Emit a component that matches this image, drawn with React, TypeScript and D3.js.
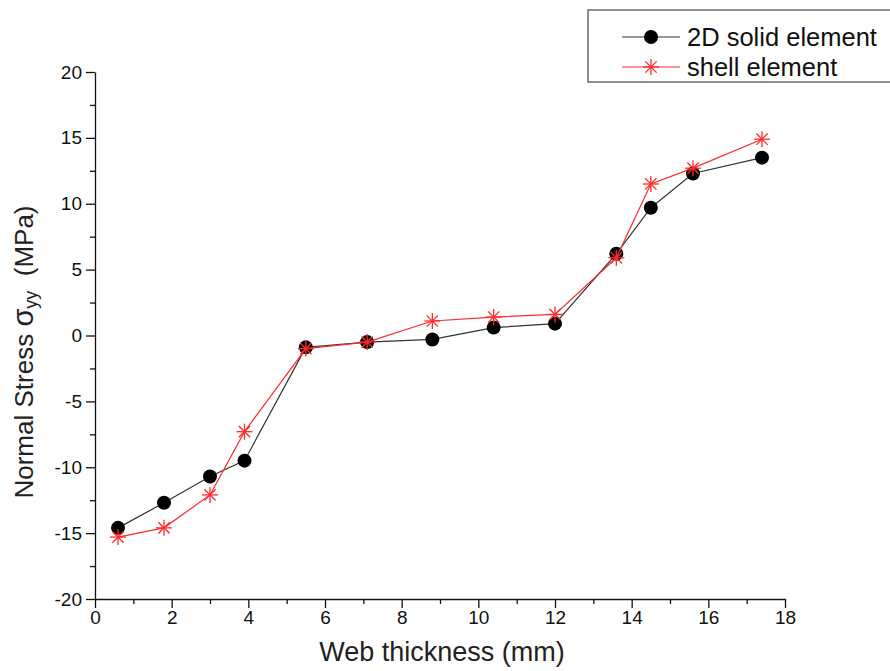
import { useRef, useEffect } from 'react'
import * as d3 from 'd3'

const thickness = [0.6, 1.8, 3.0, 3.9, 5.5, 7.1, 8.8, 10.4, 12.0, 13.6, 14.5, 15.6, 17.4]
const solidStress = [-14.6, -12.7, -10.7, -9.5, -0.9, -0.5, -0.3, 0.6, 0.9, 6.2, 9.7, 12.3, 13.5]
const shellStress = [-15.3, -14.6, -12.1, -7.3, -1.0, -0.5, 1.1, 1.4, 1.6, 5.9, 11.5, 12.7, 14.9]
const xTicks = [0, 2, 4, 6, 8, 10, 12, 14, 16, 18]
const yTicks = [-20, -15, -10, -5, 0, 5, 10, 15, 20]
const seriesNames = ['2D solid element', 'shell element']

const W = 890
const H = 671
const FONT = 'Liberation Sans, Arial, sans-serif'

const App = () => {
  const ref = useRef(null)

  useEffect(() => {
    const svg = d3.select(ref.current)
    svg.selectAll('*').remove()

    const x = d3.scaleLinear().domain([0, 18]).range([95, 785])
    const y = d3.scaleLinear().domain([-20, 20]).range([599, 72])

    // x axis
    const xAxis = svg.append('g').attr('transform', `translate(0,${y(-20)})`)
    xAxis.append('g')
      .call(d3.axisBottom(x).tickValues(d3.range(1, 18, 2)).tickSize(5).tickFormat(() => ''))
      .call(g => g.select('.domain').remove())
    xAxis.append('g')
      .call(d3.axisBottom(x).tickValues(xTicks).tickSize(9).tickSizeOuter(0).tickPadding(3).tickFormat(d => String(d)))
    xAxis.selectAll('text').attr('font-size', 19).attr('font-family', FONT).attr('fill', '#111')
    xAxis.selectAll('line, path').attr('stroke', '#111').attr('stroke-width', 1.3)

    // y axis
    const yAxis = svg.append('g').attr('transform', `translate(${x(0)},0)`)
    yAxis.append('g')
      .call(d3.axisLeft(y).tickValues(d3.range(-17.5, 20, 5)).tickSize(5).tickFormat(() => ''))
      .call(g => g.select('.domain').remove())
    yAxis.append('g')
      .call(d3.axisLeft(y).tickValues(yTicks).tickSize(9).tickSizeOuter(0).tickPadding(4).tickFormat(d => String(d)))
    yAxis.selectAll('text').attr('font-size', 19).attr('font-family', FONT).attr('fill', '#111')
    yAxis.selectAll('line, path').attr('stroke', '#111').attr('stroke-width', 1.3)

    // titles
    svg.append('text')
      .attr('x', (x(0) + x(18)) / 2 + 2).attr('y', 661)
      .attr('text-anchor', 'middle').attr('font-size', 27).attr('font-family', FONT).attr('fill', '#222')
      .text('Web thickness (mm)')

    const yl = svg.append('text')
      .attr('transform', `translate(33,352) rotate(-90)`)
      .attr('text-anchor', 'middle').attr('font-size', 26).attr('font-family', FONT).attr('fill', '#222')
      .attr('style', 'white-space: pre')
    yl.append('tspan').text('Normal Stress ')
    yl.append('tspan').attr('font-size', 29).text('σ')
    yl.append('tspan').attr('font-size', 18).attr('dy', 4).text('yy')
    yl.append('tspan').attr('dy', -4).text('  (MPa)')

    const line = d3.line<number>().x((d, i) => x(thickness[i])).y(d => y(d))

    const star = (g, cx, cy, r) => {
      for (let k = 0; k < 4; k++) {
        const a = (k * Math.PI) / 4
        g.append('line')
          .attr('x1', cx - r * Math.cos(a)).attr('y1', cy - r * Math.sin(a))
          .attr('x2', cx + r * Math.cos(a)).attr('y2', cy + r * Math.sin(a))
          .attr('stroke', '#ff2a2a').attr('stroke-width', 1.3)
      }
    }

    // solid series
    svg.append('path').datum(solidStress).attr('d', line)
      .attr('fill', 'none').attr('stroke', '#333').attr('stroke-width', 1.2)
    svg.append('g').selectAll('circle').data(solidStress).join('circle')
      .attr('cx', (d, i) => x(thickness[i])).attr('cy', d => y(d)).attr('r', 7).attr('fill', '#000')

    // shell series
    svg.append('path').datum(shellStress).attr('d', line)
      .attr('fill', 'none').attr('stroke', '#ff2a2a').attr('stroke-width', 1.2)
    const sg = svg.append('g')
    shellStress.forEach((d, i) => star(sg, x(thickness[i]), y(d), 8))

    // legend
    const lg = svg.append('g')
    lg.append('rect').attr('x', 588).attr('y', 10).attr('width', 320).attr('height', 72)
      .attr('fill', 'white').attr('stroke', '#444').attr('stroke-width', 1.2)
    lg.append('line').attr('x1', 622).attr('x2', 680).attr('y1', 37).attr('y2', 37).attr('stroke', '#333').attr('stroke-width', 1.2)
    lg.append('circle').attr('cx', 651).attr('cy', 37).attr('r', 7).attr('fill', '#000')
    lg.append('line').attr('x1', 622).attr('x2', 680).attr('y1', 67).attr('y2', 67).attr('stroke', '#ff2a2a').attr('stroke-width', 1.2)
    star(lg, 651, 67, 8)
    seriesNames.forEach((n, i) => {
      lg.append('text').attr('x', 687).attr('y', 37 + i * 30).attr('dy', '0.35em')
        .attr('font-size', 25.5).attr('font-family', FONT).attr('fill', '#111').text(n)
    })
  })

  return (
    <svg ref={ref} width={W} height={H}
      style={{ position: 'absolute', left: 0, top: 0, background: 'white' }} />
  )
}

export default App
